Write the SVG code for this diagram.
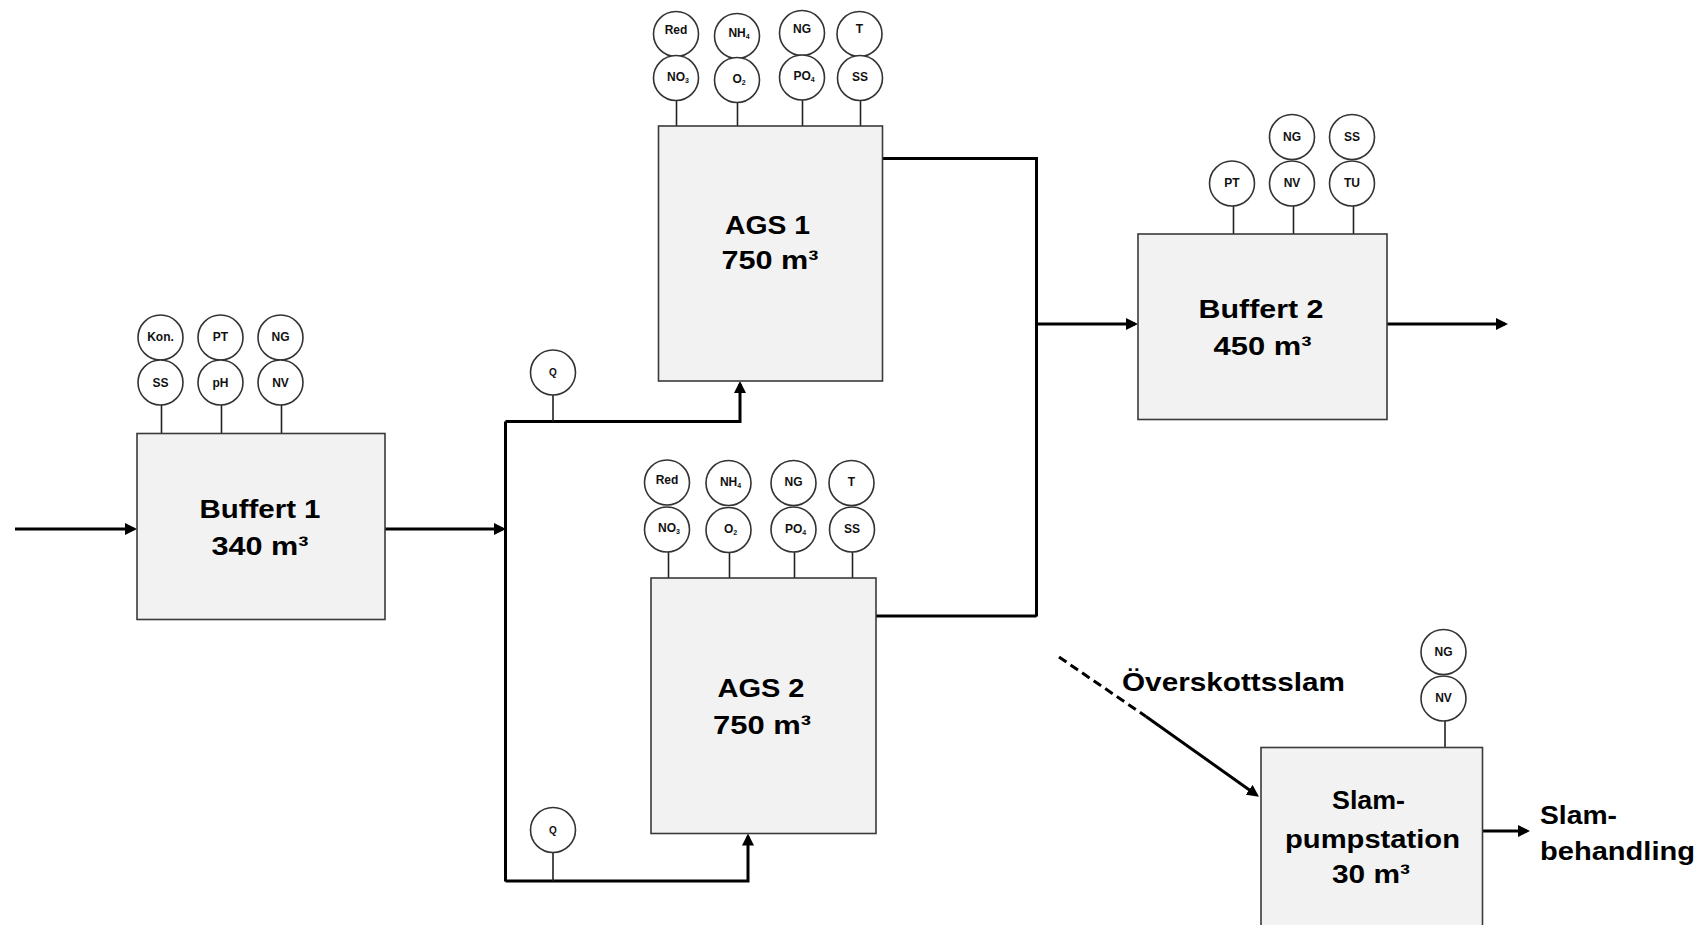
<svg xmlns="http://www.w3.org/2000/svg" width="1704" height="925" viewBox="0 0 1704 925">
<style>
.box{fill:#f2f2f2;stroke:#3a3a3a;stroke-width:1.6}
.c{fill:#fff;stroke:#333;stroke-width:1.6}
.stem{stroke:#222;stroke-width:1.6;fill:none}
.ct{font-family:"Liberation Sans",Arial,sans-serif;font-weight:bold;font-size:12px;fill:#111;text-anchor:middle}
.sub{font-size:7px}
.lbl{font-family:"Liberation Sans",Arial,sans-serif;font-weight:bold;font-size:26px;fill:#000;text-anchor:middle}
.lbls{font-family:"Liberation Sans",Arial,sans-serif;font-weight:bold;font-size:26px;fill:#000}
.conn{stroke:#000;stroke-width:3;fill:none}
</style>
<defs>
<marker id="ah" viewBox="0 0 12 12" refX="9" refY="6" markerWidth="12" markerHeight="12" markerUnits="userSpaceOnUse" orient="auto"><path d="M0,0 L12,6 L0,12 z" fill="#000"/></marker>
</defs>
<rect width="1704" height="925" fill="#fff"/>

<g id="connectors">
<path class="conn" d="M15,529 H134" marker-end="url(#ah)"/>
<path class="conn" d="M385,529 H503" marker-end="url(#ah)"/>
<path class="conn" d="M505.5,421.5 V881.5"/>
<path class="conn" d="M505.5,421.5 H740 V384" marker-end="url(#ah)"/>
<path class="conn" d="M505.5,881 H748 V836.5" marker-end="url(#ah)"/>
<path class="conn" d="M883,158.5 H1036.5 V616.5"/>
<path class="conn" d="M876,616 H1036.5"/>
<path class="conn" d="M1036.5,324 H1135" marker-end="url(#ah)"/>
<path class="conn" d="M1387,324 H1505" marker-end="url(#ah)"/>
<path class="conn" d="M1059,657 L1146,716.5" stroke-dasharray="9,5"/>
<path class="conn" d="M1146,716.5 L1256.5,795" marker-end="url(#ah)"/>
<path class="conn" d="M1482.5,831 H1527" marker-end="url(#ah)"/>
</g>

<g id="buffert1">
<path class="stem" d="M161.5,405 V433.5 M221.5,405 V433.5 M281.5,405 V433.5"/>
<circle class="c" cx="160.5" cy="337.5" r="22.5"/>
<circle class="c" cx="220.5" cy="337.5" r="22.5"/>
<circle class="c" cx="280.5" cy="337.5" r="22.5"/>
<circle class="c" cx="160.5" cy="382.5" r="22.5"/>
<circle class="c" cx="220.5" cy="382.5" r="22.5"/>
<circle class="c" cx="280.5" cy="382.5" r="22.5"/>
<text class="ct" x="160.5" y="341">Kon.</text>
<text class="ct" x="220.5" y="341">PT</text>
<text class="ct" x="280.5" y="341">NG</text>
<text class="ct" x="160.5" y="386.5">SS</text>
<text class="ct" x="220.5" y="386.5">pH</text>
<text class="ct" x="280.5" y="386.5">NV</text>
<rect class="box" x="137" y="433.5" width="248" height="186"/>
<text class="lbl" x="260" y="518" textLength="121" lengthAdjust="spacingAndGlyphs">Buffert 1</text>
<text class="lbl" x="260" y="555" textLength="97" lengthAdjust="spacingAndGlyphs">340 m³</text>
</g>

<g id="q1">
<path class="stem" d="M553,395 V421.5"/>
<circle class="c" cx="553" cy="372.5" r="22.5"/>
<text class="ct" x="553" y="376" style="font-size:10px">Q</text>
</g>

<g id="q2">
<path class="stem" d="M553,852.5 V881"/>
<circle class="c" cx="553" cy="830" r="22.5"/>
<text class="ct" x="553" y="833.5" style="font-size:10px">Q</text>
</g>

<g id="ags1">
<path class="stem" d="M676.5,100 V126 M737.5,102 V126 M802.5,100 V126 M860.5,100 V126"/>
<circle class="c" cx="676" cy="34" r="22.5"/>
<circle class="c" cx="737" cy="36" r="22.5"/>
<circle class="c" cx="802" cy="33" r="22.5"/>
<circle class="c" cx="859.5" cy="34" r="22.5"/>
<circle class="c" cx="676" cy="78" r="22.5"/>
<circle class="c" cx="737" cy="80" r="22.5"/>
<circle class="c" cx="802" cy="77.5" r="22.5"/>
<circle class="c" cx="860" cy="78" r="22.5"/>
<text class="ct" x="676" y="34">Red</text>
<text class="ct" x="739" y="37">NH<tspan class="sub" dy="2">4</tspan></text>
<text class="ct" x="802" y="33">NG</text>
<text class="ct" x="859.5" y="33">T</text>
<text class="ct" x="678" y="80.5">NO<tspan class="sub" dy="2">3</tspan></text>
<text class="ct" x="739" y="83">O<tspan class="sub" dy="2">2</tspan></text>
<text class="ct" x="804" y="79.5">PO<tspan class="sub" dy="2">4</tspan></text>
<text class="ct" x="860" y="80.5">SS</text>
<rect class="box" x="658.5" y="126" width="224" height="255"/>
<text class="lbl" x="767.5" y="234" textLength="85" lengthAdjust="spacingAndGlyphs">AGS 1</text>
<text class="lbl" x="770" y="269" textLength="97" lengthAdjust="spacingAndGlyphs">750 m³</text>
</g>

<g id="ags2">
<path class="stem" d="M668.5,552 V578 M729.5,552 V578 M794.5,552 V578 M852.5,552 V578"/>
<circle class="c" cx="667" cy="482.5" r="22.5"/>
<circle class="c" cx="728.5" cy="483" r="22.5"/>
<circle class="c" cx="793.5" cy="483" r="22.5"/>
<circle class="c" cx="851.5" cy="483" r="22.5"/>
<circle class="c" cx="667" cy="529.5" r="22.5"/>
<circle class="c" cx="728.5" cy="530" r="22.5"/>
<circle class="c" cx="793.5" cy="529.5" r="22.5"/>
<circle class="c" cx="852" cy="529.5" r="22.5"/>
<text class="ct" x="667" y="484">Red</text>
<text class="ct" x="730.5" y="485.5">NH<tspan class="sub" dy="2">4</tspan></text>
<text class="ct" x="793.5" y="486">NG</text>
<text class="ct" x="851.5" y="486">T</text>
<text class="ct" x="669" y="532">NO<tspan class="sub" dy="2">3</tspan></text>
<text class="ct" x="730.5" y="533">O<tspan class="sub" dy="2">2</tspan></text>
<text class="ct" x="795.5" y="533">PO<tspan class="sub" dy="2">4</tspan></text>
<text class="ct" x="852" y="533">SS</text>
<rect class="box" x="651" y="578" width="225" height="255.5"/>
<text class="lbl" x="761" y="697" textLength="87" lengthAdjust="spacingAndGlyphs">AGS 2</text>
<text class="lbl" x="762" y="734" textLength="98" lengthAdjust="spacingAndGlyphs">750 m³</text>
</g>

<g id="buffert2">
<path class="stem" d="M1233.5,206 V234 M1293.5,206 V234 M1353.5,206 V234"/>
<circle class="c" cx="1292" cy="137" r="22.5"/>
<circle class="c" cx="1352" cy="137" r="22.5"/>
<circle class="c" cx="1232" cy="183.5" r="22.5"/>
<circle class="c" cx="1292" cy="183.5" r="22.5"/>
<circle class="c" cx="1352" cy="183.5" r="22.5"/>
<text class="ct" x="1292" y="140.5">NG</text>
<text class="ct" x="1352" y="140.5">SS</text>
<text class="ct" x="1232" y="187">PT</text>
<text class="ct" x="1292" y="187">NV</text>
<text class="ct" x="1352" y="187">TU</text>
<rect class="box" x="1138" y="234" width="249" height="185.5"/>
<text class="lbl" x="1261" y="318" textLength="125" lengthAdjust="spacingAndGlyphs">Buffert 2</text>
<text class="lbl" x="1262.5" y="355" textLength="98" lengthAdjust="spacingAndGlyphs">450 m³</text>
</g>

<g id="slampumpstation">
<path class="stem" d="M1445,721 V747.5"/>
<circle class="c" cx="1443.5" cy="652" r="22.5"/>
<circle class="c" cx="1443.5" cy="698.5" r="22.5"/>
<text class="ct" x="1443.5" y="655.5">NG</text>
<text class="ct" x="1443.5" y="702">NV</text>
<rect class="box" x="1261" y="747.5" width="221.5" height="200"/>
<text class="lbl" x="1368.5" y="809" textLength="73" lengthAdjust="spacingAndGlyphs">Slam-</text>
<text class="lbl" x="1372.5" y="848" textLength="175" lengthAdjust="spacingAndGlyphs">pumpstation</text>
<text class="lbl" x="1371" y="883" textLength="78" lengthAdjust="spacingAndGlyphs">30 m³</text>
</g>

<g id="labels">
<text class="lbls" x="1122" y="691" textLength="223" lengthAdjust="spacingAndGlyphs">Överskottsslam</text>
<text class="lbls" x="1540" y="824" textLength="77" lengthAdjust="spacingAndGlyphs">Slam-</text>
<text class="lbls" x="1540" y="860" textLength="155" lengthAdjust="spacingAndGlyphs">behandling</text>
</g>
</svg>
